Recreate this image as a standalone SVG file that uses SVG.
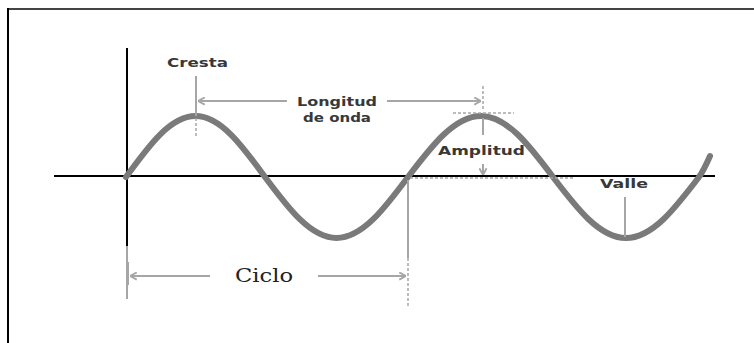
<svg xmlns="http://www.w3.org/2000/svg" width="754" height="343" viewBox="0 0 754 343">
<style>
.lbl{font-family:"DejaVu Sans",sans-serif;font-weight:bold;font-size:13px;fill:#383838}
.ciclo{font-family:"DejaVu Serif",serif;font-size:19px;fill:#222}
.ax{stroke:#000;stroke-width:2;fill:none}
.ln{stroke:#a6a6a6;stroke-width:2;fill:none}
.dash{stroke:#a6a6a6;stroke-width:1.5;fill:none;stroke-dasharray:3 2}
.wave{stroke:#7a7a7a;stroke-width:6;fill:none;stroke-linecap:round}
</style>
<defs>
<marker id="ah" viewBox="0 0 10 10" refX="9.5" refY="5" markerWidth="9" markerHeight="9" markerUnits="userSpaceOnUse" orient="auto">
<path d="M2,1 L9.5,5 L2,9" fill="none" stroke="#a6a6a6" stroke-width="2"/>
</marker>
</defs>
<rect width="754" height="343" fill="#fff"/>
<g id="frame">
<line x1="7" y1="9" x2="754" y2="9" stroke="#444" stroke-width="2"/>
<line x1="8" y1="8" x2="8" y2="343" stroke="#000" stroke-width="2"/>
</g>
<g id="axes">
<line class="ax" x1="54" y1="176" x2="715" y2="176"/>
<line class="ax" x1="127" y1="48" x2="127" y2="246"/>
<line class="ln" x1="127" y1="246" x2="127" y2="299"/>
</g>
<g id="wave">
<path class="wave" d="M126,177 C148.7,145.75 170.3,116 195.5,116 C220.6,116 242.3,145.75 265,177 C288.3,208.25 310.6,238 336.5,238 C362.4,238 384.7,208.25 408,177 C431.8,145.75 454.6,116 481,116 C507.1,116 529.5,145.75 553,177 C576.8,208.25 599.6,238 626,238 C652.4,238 675.2,208.25 699,177 C703,171.5 706.5,164 710,156"/>
</g>
<g id="connectors">
<line class="ln" x1="196" y1="76" x2="196" y2="116"/>
<line class="dash" x1="196" y1="118" x2="196" y2="137"/>
<line class="ln" x1="287" y1="101" x2="198" y2="101" marker-end="url(#ah)"/>
<line class="ln" x1="387" y1="101" x2="481" y2="101" marker-end="url(#ah)"/>
<line class="dash" x1="483" y1="86" x2="483" y2="109"/>
<line class="dash" x1="453" y1="113" x2="514" y2="113"/>
<line class="ln" x1="483" y1="118" x2="483" y2="135"/>
<line class="ln" x1="483" y1="164" x2="483" y2="175" marker-end="url(#ah)"/>
<line class="dash" x1="410" y1="178" x2="573" y2="178"/>
<line class="ln" x1="625" y1="197" x2="625" y2="237"/>
<line class="ln" x1="408" y1="180" x2="408" y2="258"/>
<line class="dash" x1="408" y1="258" x2="408" y2="306"/>
<line class="ln" x1="128" y1="262" x2="128" y2="285"/>
<line class="ln" x1="210" y1="276" x2="130" y2="276" marker-end="url(#ah)"/>
<line class="ln" x1="318" y1="276" x2="406" y2="276" marker-end="url(#ah)"/>
</g>
<g id="cresta"><text class="lbl" x="167" y="67" textLength="61" lengthAdjust="spacingAndGlyphs">Cresta</text></g>
<g id="longitud">
<text class="lbl" x="297" y="106" textLength="80" lengthAdjust="spacingAndGlyphs">Longitud</text>
<text class="lbl" x="303" y="122" textLength="68" lengthAdjust="spacingAndGlyphs">de onda</text>
</g>
<g id="amplitud"><text class="lbl" x="438" y="155" textLength="87" lengthAdjust="spacingAndGlyphs">Amplitud</text></g>
<g id="valle"><text class="lbl" x="600" y="188" textLength="48" lengthAdjust="spacingAndGlyphs">Valle</text></g>
<g id="ciclo"><text class="ciclo" x="235" y="282" textLength="58" lengthAdjust="spacingAndGlyphs">Ciclo</text></g>
</svg>
